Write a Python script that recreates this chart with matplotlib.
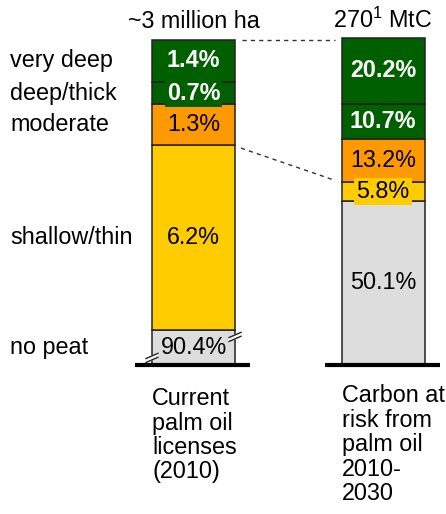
import matplotlib.pyplot as plt

plt.rcParams['font.family'] = ['Liberation Sans', 'DejaVu Sans']
plt.rcParams['mathtext.fontset'] = 'custom'
plt.rcParams['mathtext.rm'] = 'Liberation Sans'

# bottom -> top
categories = ['no peat', 'shallow/thin', 'moderate', 'deep/thick', 'very deep']
licence_share = [90.4, 6.2, 1.3, 0.7, 1.4]
carbon_share = [50.1, 5.8, 13.2, 10.7, 20.2]
# the licence bar uses a broken scale, so it is drawn with these heights
licence_drawn = [10.7, 56.6, 12.5, 6.7, 12.9]

top_labels = ['~3 million ha', r'270$^{\mathregular{1}}$ MtC']
bottom_labels = ['Current\npalm oil\nlicenses\n(2010)',
                 'Carbon at\nrisk from\npalm oil\n2010-\n2030']

colors = ['#dddddd', '#ffcc00', '#ff9900', '#006000', '#006000']
text_colors = ['black', 'black', 'black', 'white', 'white']
weights = ['normal', 'normal', 'normal', 'bold', 'bold']
boxed_left = [True, False, False, True, True]
boxed_right = [False, True, False, False, False]

FS = 16.8
bar_x = [193.5, 383]
bar_w = 83

fig = plt.figure(figsize=(4.46, 5.14), dpi=100)
ax = fig.add_axes([0, 0, 1, 1])
ax.set_xlim(0, 446)
ax.set_ylim(-45.6, 111.6)
ax.axis('off')


def stack(x, drawn, shares, boxed):
    bottom = 0
    centers = []
    for h, v, c, tc, fw, bx in zip(drawn, shares, colors, text_colors, weights, boxed):
        ax.bar(x, h, bar_w, bottom=bottom, color=c, edgecolor='#222222', linewidth=1.1, zorder=2)
        kw = {}
        if bx:
            kw['bbox'] = dict(facecolor=c, edgecolor='none', pad=1.5)
        ax.text(x, bottom + h / 2, f'{v:.1f}%', ha='center', va='center', fontsize=FS,
                color=tc, fontweight=fw, zorder=5, **kw)
        centers.append(bottom + h / 2)
        bottom += h
    return centers, bottom


left_centers, left_top = stack(bar_x[0], licence_drawn, licence_share, boxed_left)
right_centers, right_top = stack(bar_x[1], carbon_share, carbon_share, boxed_right)

# row labels
for name, y in zip(categories, left_centers):
    ax.text(10, y, name, ha='left', va='center', fontsize=FS)

# baselines
for x in bar_x:
    ax.hlines(0, x - bar_w / 2 - 17, x + bar_w / 2 + 15, color='black', lw=3, zorder=3)

# top and bottom labels
for x, top, lab in zip(bar_x, [left_top, right_top], top_labels):
    ax.annotate(lab, (x, top), xytext=(0, 13), textcoords='offset points',
                ha='center', va='center', fontsize=FS)
for x, lab, off in zip(bar_x, bottom_labels, [-16, -14]):
    ax.annotate(lab, (x - bar_w / 2, 0), xytext=(0, off), textcoords='offset points',
                ha='left', va='top', fontsize=FS, linespacing=1.08)

# dashed connectors
x0 = bar_x[0] + bar_w / 2 + 7
x1 = bar_x[1] - bar_w / 2 - 7
ax.plot([x0, x1], [left_top, left_top], ls=(0, (3, 3)), color='#333333', lw=1)
left_yellow_top = sum(licence_drawn[:2])
right_yellow_top = sum(carbon_share[:2])
ax.plot([x0 - 1, x1 - 2], [left_yellow_top - 1, right_yellow_top + 0.8],
        ls=(0, (3, 3)), color='#333333', lw=1)


# broken-scale marks on the no peat segment
def break_mark(x, y):
    dx, dy, g = 6, 0.8, 0.6
    ax.fill([x - dx, x + dx, x + dx, x - dx], [y - dy - g, y + dy - g, y + dy + g, y - dy + g],
            color='white', zorder=6)
    for s in (-g, g):
        ax.plot([x - dx, x + dx], [y - dy + s, y + dy + s], color='#222222', lw=1, zorder=7)


break_mark(bar_x[0] + bar_w / 2, licence_drawn[0] * 0.8)
break_mark(bar_x[0] - bar_w / 2, licence_drawn[0] * 0.2)

fig.savefig('out.png', dpi=100)
